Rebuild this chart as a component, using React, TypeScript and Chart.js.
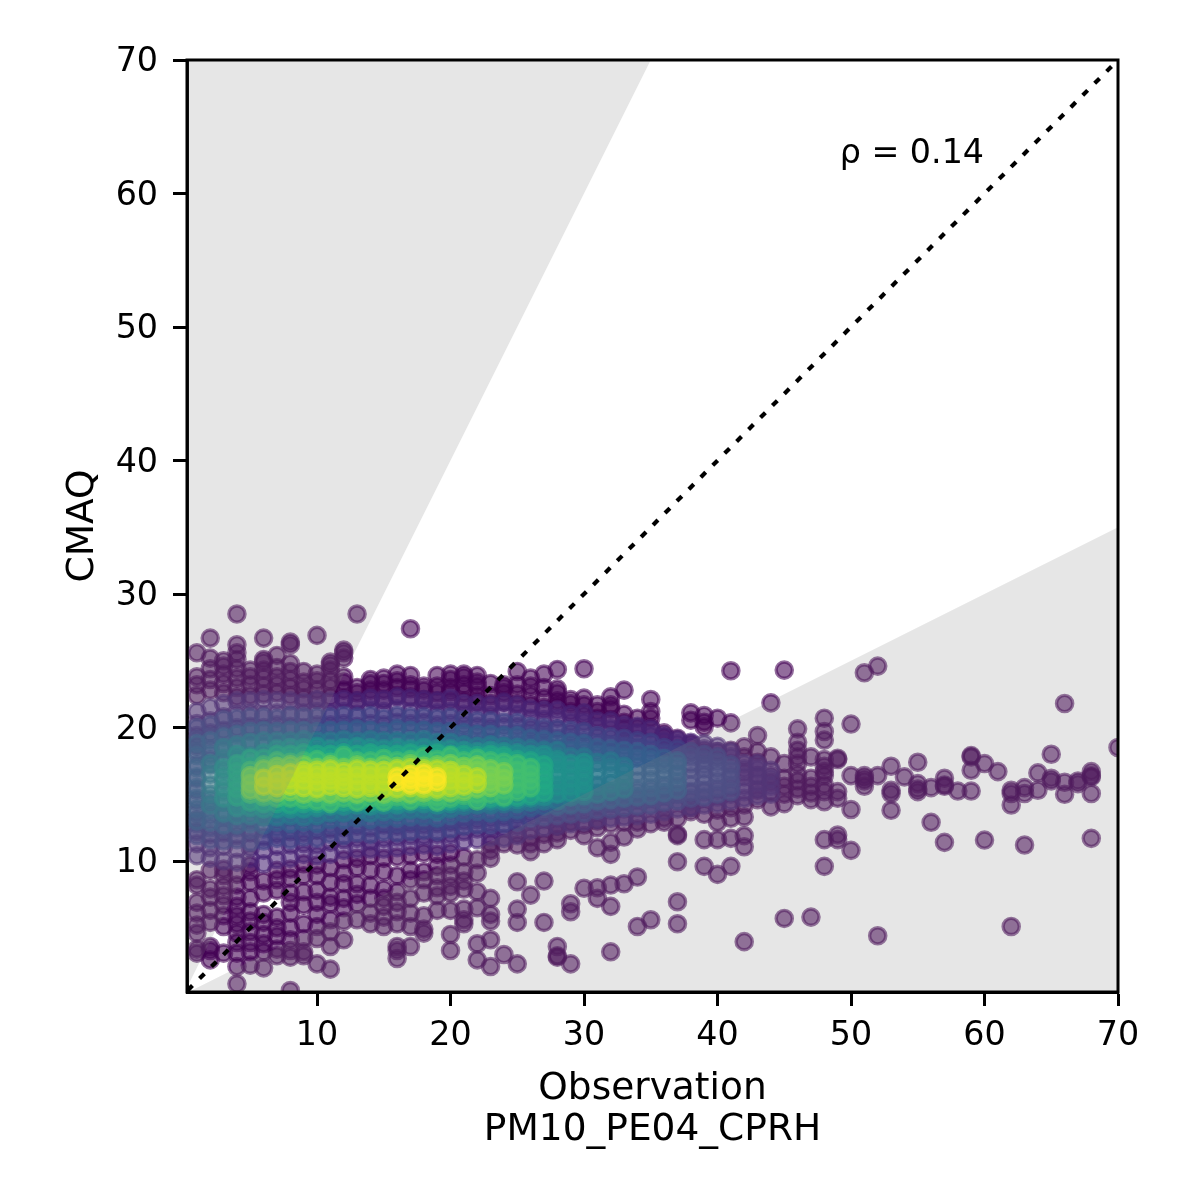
import React, { useEffect, useRef } from "react";
import { Chart, registerables } from "chart.js";

Chart.register(...registerables);

const xTicks = [10, 20, 30, 40, 50, 60, 70];
const yTicks = [10, 20, 30, 40, 50, 60, 70];
const axisMinX = 0.26;
const axisMinY = 0.19;
const axisMax = 70;
const identityLine = [{ x: 0, y: 0 }, { x: 70, y: 70 }];
const upperWedge = [{ x: 0, y: 0 }, { x: 35, y: 70 }, { x: 0, y: 70 }];
const lowerWedge = [{ x: 0, y: 0 }, { x: 70, y: 35 }, { x: 70, y: 0 }];

const bandColors = ["68,1,84", "72,36,117", "65,68,135", "53,95,141", "42,120,142", "33,145,140", "34,168,132", "68,191,112", "122,209,81", "189,223,38", "253,231,37"];

const band0 = [
  [1, 3.1, 3.4, 4.6, 5.2, 6.1, 6.9, 8.2, 8.6, 22.4, 23.2, 23.8, 25.6],
  [2, 2.6, 3.3, 3.6, 5.4, 6.3, 7.3, 7.9, 9.3, 22.8, 23.6, 24.4, 25.2, 26.7],
  [3, 3.1, 5.1, 5.9, 6.7, 7.4, 8.1, 8.9, 9.4, 22.6, 23.3, 24, 24.6, 25],
  [4, 0.8, 2.1, 3.1, 3.9, 4.6, 5.3, 5.9, 6.6, 7.3, 8.2, 9, 22.3, 23, 23.7, 24.4, 25.1, 25.6, 26.2, 28.5],
  [5, 2.2, 3.2, 3.9, 4.7, 5.5, 6.2, 7.2, 8.4, 9.2, 9.7, 22.4, 23.2, 23.8, 24.3],
  [6, 2, 3.2, 3.8, 4.5, 5.4, 6, 7.6, 8.5, 22.5, 23.1, 23.7, 24.3, 24.9, 25.1, 26.7],
  [7, 2.9, 3.4, 4.4, 5, 5.8, 7.8, 8.6, 9.3, 22.6, 23.2, 23.8, 24.5, 25.4],
  [8, 0.3, 2.8, 3.3, 4.1, 5, 6.1, 6.9, 7.6, 8.7, 9.4, 22.4, 23, 23.6, 24.2, 24.8, 26.2, 26.4],
  [9, 2.9, 3.2, 4.2, 5.3, 6.7, 7.7, 8.9, 9.8, 22.2, 22.9, 23.4, 24.2],
  [10, 2.3, 4.2, 5.1, 6, 6.9, 7.8, 8.9, 9.7, 22.1, 22.8, 23.5, 24, 26.9],
  [11, 1.9, 3.6, 4.7, 5.6, 6.8, 7.3, 8.4, 9.5, 22.3, 23, 23.5, 24.3, 24.7, 24.9],
  [12, 4.1, 5.5, 6.5, 7.2, 8.3, 9.1, 10.1, 22.2, 22.8, 23.4, 23.8, 25.2, 25.6, 25.8],
  [13, 5.6, 6.8, 7.5, 8.3, 9.5, 10.2, 22, 22.6, 23, 28.5],
  [14, 5.3, 6.1, 7.2, 8.2, 9.3, 10.4, 22.2, 22.8, 23.3, 23.6],
  [15, 5.1, 5.8, 6.6, 7.2, 7.9, 9.2, 10.2, 22.1, 22.8, 23.3, 23.7],
  [16, 2.7, 3.3, 3.6, 5.3, 6.2, 6.9, 7.7, 8.9, 10.3, 22.4, 23, 23.5, 24],
  [17, 3.6, 5.1, 6.1, 7.2, 8.6, 9.3, 10.4, 22.3, 22.9, 23.2, 23.9, 27.4],
  [18, 4.6, 4.9, 5.9, 7.6, 8.6, 9.2, 10.6, 22.1, 22.8, 23.1],
  [19, 6.3, 7.4, 8, 8.9, 9.6, 10.5, 22, 22.6, 23.1, 23.9],
  [20, 3.3, 4.5, 6.3, 7.6, 8.1, 8.9, 9.7, 10.6, 22, 22.7, 23, 23.6, 24],
  [21, 5.3, 5.6, 6.4, 7.9, 8.5, 9.2, 10.3, 22, 22.6, 23.2, 24, 23.8],
  [22, 2.6, 3.8, 6.5, 7.7, 9.1, 10.1, 21.9, 22.4, 23.1, 23.4, 23.9],
  [23, 2.1, 4.1, 5.5, 6, 7.2, 10.2, 10.8, 11.3, 21.8, 22.4, 23.3],
  [24, 3, 11.3, 21.9, 22.6, 23.2, 23],
  [25, 2.3, 5.4, 6.4, 8.45, 11.2, 12, 21.8, 22.5, 23.2, 24.2],
  [26, 7.45, 10.7, 11.3, 11.8, 21.7, 22.4, 23.1, 23.7],
  [27, 5.4, 8.5, 11.3, 12, 21.5, 22.2, 23, 24],
  [28, 2.8, 2.9, 3.6, 11.6, 12.1, 12.6, 21.6, 22, 22.6, 22.9, 24.35],
  [29, 2.3, 6.2, 6.8, 12.3, 12.9, 21.2, 22.1, 21.8],
  [30, 7.96, 11.9, 12.7, 20.9, 21.7, 22.2, 24.4],
  [31, 7.2, 8, 11, 12.5, 13, 20.7, 21.2, 21.7],
  [32, 3.2, 6.6, 8.2, 10.5, 11.4, 12.8, 20.6, 21.4, 21.7, 22.3],
  [33, 8.3, 11.8, 12.9, 19.9, 20.4, 21, 22.8],
  [34, 5.1, 8.8, 12.4, 12.9, 20, 20.7],
  [35, 5.6, 12.8, 20, 20.7, 21.2, 22.1],
  [36, 12.9, 13.2, 19.3, 19.6],
  [37, 5.3, 6.95, 9.95, 11.9, 12, 13.2, 19.2],
  [38, 13.7, 14, 18.8, 20.55, 21.1],
  [39, 9.6, 11.6, 13.5, 18.2, 20.06, 20.4, 20.9],
  [40, 9, 11.6, 12.9, 13.8, 18.2, 20.7],
  [41, 9.6, 11.7, 13.2, 14, 18.3, 20.35, 24.25],
  [42, 3.96, 11.07, 11.9, 13.3, 14.2, 16.6, 17.8, 18.56],
  [43, 14.6, 15.3, 16.4, 17.4, 18.2, 19.4],
  [44, 14.06, 15.2, 15.9, 16.4, 17.8, 21.85],
  [45, 5.7, 14.3, 15, 15.6, 16.2, 17.3, 24.3],
  [46, 14.9, 15.4, 16, 16.5, 17.3, 17.8, 18.3, 18.9, 19.9],
  [47, 5.8, 14.6, 15.1, 15.6, 16.2, 17.8],
  [48, 9.6, 11.6, 14.44, 15.2, 15.7, 16.4, 16.7, 17.1, 17.6, 19.06, 19.7, 20.7],
  [49, 11.6, 11.95, 14.7, 15.2, 17.6, 17.7],
  [50, 10.8, 13.86, 16.4, 20.26],
  [51, 15.6, 16, 16.2, 16.4, 24.1],
  [52, 4.4, 16.4, 24.6],
  [53, 13.8, 15.06, 15.3, 17.1],
  [54, 16.3],
  [55, 15.2, 15.4, 15.8, 17.4],
  [56, 12.9, 15.5],
  [57, 11.4, 15.6, 15.7, 16.2],
  [58, 15.24],
  [59, 15.24, 16.8, 17.8, 17.9],
  [60, 11.57, 17.3],
  [61, 16.7],
  [62, 5.1, 14.2, 15.06, 15.3],
  [63, 11.2, 15.06, 15.5],
  [64, 15.3, 16.6],
  [65, 16, 16.2, 18],
  [66, 15, 15.9, 21.8],
  [67, 15.8, 16],
  [68, 11.7, 15.06, 16.3, 16.4, 16.7],
  [70, 18.5],
];

const band1 = [
  [1, 10.4, 11.3, 12.2, 13.1, 18.6, 19.4, 20.3, 21.2], [2, 10.2, 11, 12, 19.6, 20.5, 21.5], [3, 10, 11.1, 12.1, 19.8, 20.8, 21.8],
  [4, 9.9, 10.9, 11.9, 20, 21, 22], [5, 10.2, 11, 12.1, 20.1, 21.1, 22], [6, 9.8, 10.8, 11.8, 20, 21, 22.1],
  [7, 10.1, 11.1, 12, 20.2, 21.1, 22], [8, 10.2, 11.2, 12.2, 20.1, 21, 22], [9, 10.5, 11.3, 12.1, 20, 21.1, 21.9],
  [10, 10.4, 11.2, 12.3, 20.2, 21.2, 22.1], [11, 10.5, 11.4, 12.4, 20.2, 21.1, 22], [12, 10.8, 11.6, 12.5, 20.3, 21.2, 22.1],
  [13, 10.9, 11.7, 12.6, 20.1, 21, 22], [14, 10.9, 11.5, 12.5, 20.3, 21.3, 22.2], [15, 10.9, 11.7, 12.7, 20.2, 21.2, 22.1],
  [16, 11, 11.8, 12.6, 20.4, 21.4, 22.3], [17, 11.1, 11.9, 12.8, 20.3, 21.2, 22.2], [18, 11.2, 11.9, 12.7, 20.4, 21.3, 22.1],
  [19, 11.1, 12, 12.8, 20.2, 21.1, 22], [20, 11.3, 12, 12.9, 20.3, 21.2, 22.2], [21, 11.5, 12.2, 13, 20.2, 21, 21.8],
  [22, 11.6, 12.4, 13.1, 20.1, 21, 21.8], [23, 11.8, 12.5, 13.2, 20, 20.9, 21.7], [24, 11.7, 12.5, 13.3, 20.1, 21, 21.9],
  [25, 11.9, 12.6, 13.4, 20.1, 21, 21.7], [26, 12.3, 13, 13.6, 19.9, 20.7, 21.4], [27, 12.5, 13.1, 13.7, 19.8, 20.6, 21.3],
  [28, 12.6, 13.2, 13.8, 19.9, 20.7, 21.3], [29, 12.8, 13.4, 14, 19.6, 20.4, 21], [30, 12.9, 13.5, 14.1, 19.7, 20.4, 21.1],
  [31, 13.1, 13.7, 14.3, 19.3, 20, 20.5], [32, 13.2, 13.8, 14.3, 19.2, 19.9, 20.5], [33, 13.3, 13.9, 14.5, 19, 19.6, 20.2],
  [34, 13.4, 14, 14.6, 19.1, 19.6, 20.1], [35, 13.5, 14.1, 14.7, 18.9, 19.4, 19.9], [36, 13.7, 14.3, 14.9, 18.5, 19, 19.4],
  [37, 13.9, 14.5, 15, 18.4, 18.8, 19.1], [38, 14, 14.5, 15.1, 18.2, 18.6, 18.9], [39, 14.2, 14.7, 15.2, 18, 18.4, 18.8],
  [40, 14.3, 14.8, 15.3, 17.8, 18.2, 18.6], [41, 14.5, 15, 15.5, 16.4, 17.3, 17.8, 18.2], [42, 14.7, 15.2, 15.6, 16.3, 16.9, 17.3],
  [43, 14.9, 15.4, 15.9, 16.4, 16.9, 17.3], [44, 15, 15.6, 16.2, 16.8],
];

const band2 = [
  [1, 11.9, 12.8, 13.6, 14.5, 15.3, 16.2, 17.2, 18.2, 19.1, 20], [2, 11.6, 12.5, 13.4, 14.3, 17.6, 18.4, 19.3, 20.2], [3, 11.5, 12.4, 13.3, 18.5, 19.5, 20.6],
  [4, 11.6, 12.5, 13.2, 18.7, 19.7, 20.7], [5, 11.4, 12.3, 13.1, 18.8, 19.8, 20.8], [6, 11.5, 12.4, 13.3, 18.6, 19.7, 20.8],
  [7, 11.7, 12.5, 13.2, 18.8, 19.8, 20.7], [8, 11.6, 12.4, 13.3, 18.9, 19.9, 20.9], [9, 11.8, 12.6, 13.4, 18.7, 19.7, 20.8],
  [10, 11.7, 12.5, 13.3, 18.9, 19.9, 20.8], [11, 12, 12.7, 13.5, 18.8, 19.8, 20.8], [12, 11.9, 12.7, 13.6, 18.9, 19.9, 20.9],
  [13, 12.1, 12.8, 13.5, 18.8, 19.9, 20.8], [14, 12, 12.9, 13.7, 19, 19.9, 20.9], [15, 12.2, 12.9, 13.6, 18.9, 19.8, 20.7],
  [16, 12.1, 12.8, 13.6, 19, 20, 20.9], [17, 12.2, 13, 13.8, 18.9, 19.9, 20.8], [18, 12.3, 13, 13.7, 19, 19.9, 20.8],
  [19, 12.2, 13, 13.8, 18.8, 19.8, 20.7], [20, 12.4, 13.1, 13.8, 19, 19.8, 20.8], [21, 12.6, 13.3, 14, 18.9, 19.7, 20.6],
  [22, 12.7, 13.4, 14.1, 18.8, 19.6, 20.5], [23, 12.7, 13.5, 14.2, 18.9, 19.7, 20.5], [24, 12.8, 13.5, 14.2, 18.7, 19.5, 20.4],
  [25, 12.9, 13.6, 14.3, 18.8, 19.6, 20.4], [26, 13.2, 13.9, 14.5, 18.7, 19.4, 20.1], [27, 13.3, 13.9, 14.6, 18.6, 19.3, 20],
  [28, 13.4, 14, 14.6, 18.5, 19.2, 19.9], [29, 13.5, 14.1, 14.7, 18.4, 19.1, 19.8], [30, 13.6, 14.2, 14.8, 18.4, 19, 19.7],
  [31, 13.8, 14.4, 15, 18.2, 18.8, 19.4], [32, 13.9, 14.4, 15, 18.1, 18.7, 19.3], [33, 14, 14.6, 15.2, 18, 18.6, 19.2],
  [34, 14.1, 14.7, 15.2, 17.9, 18.5, 19], [35, 14.2, 14.7, 15.3, 17.8, 18.4, 18.9], [36, 14.4, 14.9, 15.5, 17.6, 18.1, 18.5],
  [37, 14.5, 15, 15.6, 16.6, 17.5, 18, 18.4], [38, 14.7, 15.2, 15.7, 16.3, 16.9, 17.3, 17.8, 18.2], [39, 14.8, 15.3, 15.8, 16.4, 16.9, 17.2, 17.6, 18],
  [40, 15, 15.5, 16, 16.5, 16.9, 17.4, 17.8], [41, 15.2, 15.7, 16.2, 16.8, 17.2],
];

const band3 = [
  [1, 13, 13.9, 14.7, 15.5, 16.3, 17, 17.9, 18.8], [2, 12.9, 13.8, 14.6, 17.2, 18, 19], [3, 12.7, 13.5, 14.4, 17.4, 18.3, 19.3],
  [4, 12.7, 13.6, 14.5, 17.5, 18.5, 19.5], [5, 12.8, 13.5, 14.3, 17.6, 18.7, 19.7], [6, 12.7, 13.6, 14.4, 17.6, 18.6, 19.8],
  [7, 12.9, 13.7, 14.5, 17.7, 18.7, 19.7], [8, 12.8, 13.6, 14.4, 17.8, 18.8, 19.8], [9, 12.9, 13.7, 14.5, 17.7, 18.8, 19.8],
  [10, 12.8, 13.7, 14.6, 17.8, 18.7, 19.7], [11, 13.1, 13.9, 14.6, 17.8, 18.8, 19.8], [12, 13.1, 13.8, 14.5, 17.9, 18.9, 19.8],
  [13, 13.2, 13.9, 14.7, 17.7, 18.8, 19.9], [14, 13.1, 13.9, 14.6, 17.8, 18.9, 19.8], [15, 13.2, 14, 14.7, 17.9, 18.8, 19.7],
  [16, 13.2, 13.9, 14.6, 17.9, 18.9, 19.9], [17, 13.3, 14, 14.7, 17.8, 18.8, 19.8], [18, 13.3, 14, 14.8, 17.9, 18.9, 19.8],
  [19, 13.2, 14, 14.7, 17.8, 18.7, 19.7], [20, 13.4, 14.1, 14.8, 17.9, 18.8, 19.7], [21, 13.6, 14.2, 14.9, 17.8, 18.7, 19.6],
  [22, 13.7, 14.3, 15, 17.8, 18.6, 19.5], [23, 13.6, 14.4, 15, 17.9, 18.7, 19.5], [24, 13.7, 14.4, 15.1, 17.7, 18.6, 19.4],
  [25, 13.8, 14.5, 15.1, 17.8, 18.6, 19.4], [26, 14, 14.6, 15.2, 17.8, 18.5, 19.2], [27, 14.1, 14.7, 15.3, 17.7, 18.4, 19.1],
  [28, 14.1, 14.7, 15.3, 17.7, 18.4, 19], [29, 14.2, 14.8, 15.4, 17.6, 18.3, 18.9], [30, 14.3, 14.8, 15.5, 17.6, 18.2, 18.8],
  [31, 14.5, 15.1, 15.7, 17.4, 18, 18.5], [32, 14.6, 15.2, 15.8, 17.3, 17.9, 18.4], [33, 14.7, 15.3, 15.9, 16.6, 17.2, 17.8, 18.3],
  [34, 14.8, 15.4, 16, 16.6, 17.1, 17.7, 18.2], [35, 14.9, 15.5, 16.1, 16.6, 17, 17.6, 18], [36, 15.1, 15.7, 16.3, 16.8, 17.2, 17.7],
  [37, 15.3, 15.9, 16.5, 17.1, 17.5],
];

const band4 = [
  [2, 14.2, 15, 15.7, 16.5, 17.3], [3, 13.6, 14.4, 15.2, 16, 16.8, 17.7, 18.5], [4, 13.4, 14.2, 15, 15.9, 16.8, 17.8, 18.7],
  [5, 13.4, 14.2, 14.9, 17, 17.9, 18.9], [6, 13.3, 14, 14.8, 17.1, 18, 19], [7, 13.3, 14.1, 14.9, 17.2, 18.1, 19],
  [8, 13.4, 14.1, 14.8, 17.3, 18.1, 19], [9, 13.3, 14, 14.7, 17.2, 18.2, 19.1], [10, 13.4, 14.2, 14.9, 17.4, 18.2, 19],
  [11, 13.6, 14.3, 15, 17.3, 18.1, 19], [12, 13.6, 14.2, 14.9, 17.4, 18.2, 19.1], [13, 13.7, 14.3, 15, 17.3, 18.2, 19],
  [14, 13.6, 14.4, 15.1, 17.4, 18.3, 19.1], [15, 13.7, 14.4, 15, 17.3, 18.2, 19], [16, 13.7, 14.3, 15.1, 17.4, 18.1, 19],
  [17, 13.8, 14.4, 15, 17.5, 18.3, 19], [18, 13.8, 14.5, 15.1, 17.4, 18.2, 19.1], [19, 13.7, 14.4, 15.1, 17.5, 18.2, 18.9],
  [20, 13.9, 14.5, 15.2, 17.4, 18.1, 18.9], [21, 14.1, 14.7, 15.3, 17.5, 18.1, 18.7], [22, 14.2, 14.8, 15.4, 17.4, 18, 18.6],
  [23, 14.2, 14.8, 15.4, 17.5, 18.1, 18.7], [24, 14.3, 14.9, 15.5, 17.4, 18, 18.6], [25, 14.3, 14.9, 15.5, 17.4, 18, 18.5],
  [26, 14.4, 15, 15.6, 17.3, 17.9, 18.4], [27, 14.5, 15.1, 15.7, 17.3, 17.8, 18.3], [28, 14.5, 15.1, 15.7, 16.5, 17.3, 17.8, 18.3],
  [29, 14.8, 15.4, 16, 16.6, 17.2, 17.8], [30, 14.9, 15.5, 16.1, 16.7, 17.3, 17.8], [31, 15, 15.6, 16.2, 16.8, 17.4],
  [32, 15.2, 15.8, 16.4, 17, 17.5], [33, 15.4, 16, 16.6, 17.1],
];

const band5 = [
  [3, 14.7, 15.5, 16.3, 17], [4, 14, 14.8, 15.5, 16.3, 17.1, 18], [5, 14, 14.7, 15.4, 16.2, 17, 17.8],
  [6, 13.9, 14.6, 15.3, 16.1, 17.2, 18.1], [7, 13.9, 14.6, 15.4, 17.3, 17.9, 18.4], [8, 13.9, 14.6, 15.3, 17.4, 17.9, 18.5],
  [9, 13.9, 14.5, 15.2, 17.5, 18, 18.5], [10, 14, 14.6, 15.3, 17.4, 18, 18.6], [11, 14.1, 14.7, 15.3, 17.5, 18, 18.4],
  [12, 14.1, 14.7, 15.4, 17.5, 18.1, 18.5], [13, 14.2, 14.8, 15.3, 17.4, 18, 18.6], [14, 14.1, 14.7, 15.4, 17.6, 18.1, 18.5],
  [15, 14.2, 14.8, 15.4, 17.5, 18, 18.4], [16, 14.2, 14.8, 15.5, 17.5, 18.1, 18.5], [17, 14.3, 14.9, 15.4, 17.6, 18, 18.4],
  [18, 14.3, 14.9, 15.5, 17.5, 18, 18.5], [19, 14.2, 14.8, 15.4, 17.6, 18.1, 18.4], [20, 14.3, 14.9, 15.5, 17.5, 18, 18.4],
  [21, 14.4, 15, 15.6, 17.5, 17.9, 18.3], [22, 14.5, 15.1, 15.6, 17.4, 17.9, 18.2], [23, 14.5, 15.1, 15.7, 17.5, 17.9, 18.3],
  [24, 14.5, 15.1, 15.7, 17.4, 17.8, 18.2], [25, 14.6, 15.2, 15.8, 17.3, 17.8, 18.1], [26, 14.7, 15.3, 15.9, 16.6, 17.3, 17.7, 18],
  [27, 14.8, 15.3, 15.9, 16.6, 17.2, 17.6, 18], [28, 15, 15.6, 16.2, 16.8, 17.3, 17.6], [29, 15.1, 15.6, 16.2, 16.8, 17.3],
  [30, 15.2, 15.8, 16.4, 17, 17.4],
];

const band6 = [
  [4, 14.8, 15.4, 16, 16.7, 17.3], [5, 14.4, 15, 15.7, 16.4, 17.1, 17.7], [6, 14.3, 14.9, 15.6, 16.3, 17, 17.7],
  [7, 14.3, 14.9, 15.5, 17.1, 17.6, 18], [8, 14.2, 14.8, 15.4, 17.2, 17.6, 18], [9, 14.3, 14.8, 15.4, 17.2, 17.7, 18.1],
  [10, 14.3, 14.9, 15.4, 17.3, 17.7, 18], [11, 14.4, 14.9, 15.5, 17.2, 17.6, 18], [12, 14.4, 14.9, 15.4, 17.3, 17.7, 18.1],
  [13, 14.5, 15, 15.5, 17.2, 17.6, 18], [14, 14.4, 14.9, 15.5, 17.3, 17.8, 18.1], [15, 14.5, 15, 15.5, 17.3, 17.7, 18],
  [16, 14.5, 15, 15.6, 17.3, 17.7, 18], [17, 14.6, 15.1, 15.6, 17.3, 17.7, 18.1], [18, 14.6, 15.1, 15.6, 17.3, 17.6, 18],
  [19, 14.5, 15, 15.6, 17.4, 17.8, 18.1], [20, 14.5, 15.1, 15.6, 17.3, 17.7, 18], [21, 14.6, 15.1, 15.7, 17.3, 17.7, 18],
  [22, 14.7, 15.2, 15.7, 17.3, 17.6, 17.9], [23, 14.7, 15.2, 15.7, 17.3, 17.7, 18], [24, 14.7, 15.3, 15.8, 16.5, 17.2, 17.6, 17.9],
  [25, 14.8, 15.4, 16, 16.6, 17.2, 17.6], [26, 14.9, 15.4, 16, 16.6, 17.1, 17.5], [27, 15.1, 15.6, 16.1, 16.7, 17.2],
];

const band7 = [
  [5, 15, 15.6, 16.2, 16.8], [6, 14.8, 15.4, 16, 16.6, 17.2], [7, 14.7, 15.3, 15.9, 16.5, 17.1, 17.5],
  [8, 14.7, 15.2, 15.8, 17, 17.4], [9, 14.6, 15.2, 15.7, 17, 17.5], [10, 14.5, 15.2, 15.7, 17.1, 17.6],
  [11, 14.3, 14.8, 15.3, 17, 17.4], [12, 14.7, 15.2, 15.7, 17.1, 17.9], [13, 14.4, 14.9, 15.4, 17, 17.5],
  [14, 14.7, 15.2, 15.8, 17.1, 17.5], [15, 14.4, 14.8, 15.3, 17.1, 17.7], [16, 14.8, 15.3, 15.8, 17.1, 17.5],
  [17, 14.5, 14.9, 15.4, 17.1, 17.6], [18, 14.8, 15.3, 15.9, 17.2, 17.8], [19, 14.4, 14.8, 15.3, 17.1, 17.6],
  [20, 14.7, 15.2, 15.9, 17.1, 17.9], [21, 14.9, 15.4, 15.9, 17.1, 17.5], [22, 14.5, 15, 15.5, 16.4, 17.1, 17.7],
  [23, 15, 15.5, 16, 16.6, 17.1, 17.5], [24, 14.8, 15.3, 15.9, 16.5, 17, 17.4], [25, 15.2, 15.7, 16.2, 16.8, 17.3],
  [26, 15.5, 16, 16.5, 17],
];

const band8 = [
  [5, 15.3, 15.8, 16.4], [6, 15.1, 15.7, 16.3, 16.9], [7, 15.1, 15.6, 16.2, 16.8, 17.1], [8, 15.2, 15.6, 16.2, 16.8, 17.2], [9, 15, 15.5, 16.1, 16.7, 17.2],
  [10, 15.1, 15.5, 16, 16.6, 17], [11, 15, 15.6, 16.1, 16.7, 17.2], [12, 15.1, 15.5, 16, 16.7, 17],
  [13, 15, 15.6, 16.1, 16.7, 17.2], [14, 15.1, 15.5, 16.1, 16.8, 17], [15, 15, 15.6, 16.1, 16.8, 17.2],
  [16, 15.1, 15.6, 16.1, 16.8, 17.1], [17, 15, 15.7, 16.2, 16.8, 17.3], [18, 15.1, 15.6, 16.2, 16.8, 17.1],
  [19, 15.2, 15.6, 16.2, 16.8, 17.2], [20, 15.1, 15.7, 16.2, 16.8, 17.3], [21, 15.2, 15.7, 16.2, 16.8, 17.1],
  [22, 15.4, 15.8, 16.3, 16.8, 17.2], [23, 15.5, 15.9, 16.4, 16.9], [24, 15.7, 16.2, 16.7],
];

const band9 = [
  [6, 15.6, 16.2], [7, 15.5, 16, 16.5], [8, 15.6, 16.1, 16.6], [9, 15.5, 16, 16.5, 16.8], [10, 15.4, 15.9, 16.4, 16.8], [11, 15.6, 16, 16.4, 16.9], [12, 15.5, 15.9, 16.3, 16.7],
  [13, 15.4, 15.9, 16.4, 16.9], [14, 15.5, 15.8, 16.4, 16.8], [15, 15.4, 15.9, 16.4, 16.8], [16, 15.4, 15.9, 16.4, 16.9],
  [17, 15.5, 16, 16.5, 17], [18, 15.4, 15.9, 16.5, 16.9], [19, 15.4, 15.9, 16.5, 16.9], [20, 15.5, 16, 16.5, 16.8],
  [21, 15.6, 16, 16.5], [22, 15.8, 16.3],
];

const band10 = [
  [16, 15.9, 16.3], [17, 15.7, 16.1, 16.5], [18, 15.7, 16.2, 16.6], [19, 15.9, 16.3],
];

const bands = [band0, band1, band2, band3, band4, band5, band6, band7, band8, band9, band10];

const annotationText = "ρ = 0.14";
const annotationAt = { x: 49.15, y: 62.3 };

const toPoints = (rows: number[][]) =>
  rows.flatMap(([x, ...ys]) => ys.map((y) => ({ x, y })));

const framePlugin = {
  id: "frame",
  beforeDraw(chart: any) {
    chart.scales.y.getLabelItems().forEach((item: any) => {
      if (!item.__shifted) {
        item.options.translation[1] += 2.5;
        item.__shifted = true;
      }
    });
  },
  afterDatasetsDraw(chart: any) {
    const { ctx, chartArea, scales } = chart;
    ctx.save();
    ctx.strokeStyle = "#000";
    ctx.lineWidth = 3;
    ctx.strokeRect(chartArea.left, chartArea.top, chartArea.right - chartArea.left, chartArea.bottom - chartArea.top);
    ctx.fillStyle = "#000";
    ctx.font = '33.3px "DejaVu Sans"';
    ctx.textAlign = "left";
    ctx.textBaseline = "alphabetic";
    ctx.fillText(annotationText, scales.x.getPixelForValue(annotationAt.x), scales.y.getPixelForValue(annotationAt.y));
    ctx.restore();
  },
};

export default function App() {
  const ref = useRef<HTMLCanvasElement>(null);
  useEffect(() => {
    const font = { family: '"DejaVu Sans"', size: 33.3 };
    const titleFont = { family: '"DejaVu Sans"', size: 37.5, lineHeight: 1.1 };
    const pointSets = bands.map((rows, i) => ({
      type: "scatter" as const,
      label: `density ${i}`,
      data: toPoints(rows),
      showLine: false,
      pointRadius: 8.1,
      pointHoverRadius: 8.1,
      pointBorderWidth: 3.4,
      pointBackgroundColor: `rgba(${bandColors[i]},0.58)`,
      pointBorderColor: `rgba(${bandColors[i]},0.58)`,
      order: 20 - i,
    }));
    const wedge = (data: any[], label: string) => ({
      type: "scatter" as const,
      label,
      data,
      showLine: true,
      fill: "shape",
      backgroundColor: "rgba(128,128,128,0.2)",
      borderWidth: 0,
      borderColor: "rgba(0,0,0,0)",
      pointRadius: 0,
      order: 2,
    });
    const chart = new Chart(ref.current!, {
      type: "scatter",
      data: {
        datasets: [
          {
            type: "scatter",
            label: "1:1",
            data: identityLine,
            showLine: true,
            borderColor: "#000",
            borderWidth: 4.2,
            borderDash: [6.9, 9.98],
            borderDashOffset: -5.74,
            pointRadius: 0,
            fill: false,
            order: 1,
          },
          wedge(upperWedge, "upper"),
          wedge(lowerWedge, "lower"),
          ...pointSets,
        ] as any,
      },
      options: {
        responsive: false,
        devicePixelRatio: 1,
        animation: false,
        events: [],
        layout: { padding: { top: 60, right: 82, left: 63, bottom: 49 } },
        plugins: { legend: { display: false }, tooltip: { enabled: false }, title: { display: false } },
        scales: {
          x: {
            type: "linear",
            min: axisMinX,
            max: axisMax,
            afterBuildTicks: (s: any) => { s.ticks = xTicks.map((value) => ({ value })); },
            afterFit: (s: any) => { s.height = 159; },
            grid: { drawOnChartArea: false, drawTicks: true, tickLength: 14, tickWidth: 3, tickColor: "#000" },
            border: { display: true, color: "#000", width: 3 },
            ticks: { color: "#000", font, padding: 10, maxRotation: 0, autoSkip: false, callback: (v: any) => String(v) },
            title: { display: true, text: ["Observation", "PM10_PE04_CPRH"], color: "#000", font: titleFont, padding: { top: 8, bottom: 0 } },
          },
          y: {
            type: "linear",
            min: axisMinY,
            max: axisMax,
            afterBuildTicks: (s: any) => { s.ticks = yTicks.map((value) => ({ value })); },
            afterFit: (s: any) => { s.width = 124; },
            grid: { drawOnChartArea: false, drawTicks: true, tickLength: 14, tickWidth: 3, tickColor: "#000" },
            border: { display: true, color: "#000", width: 3 },
            ticks: { color: "#000", font, padding: 15, autoSkip: false, callback: (v: any) => String(v) },
            title: { display: true, text: "CMAQ", color: "#000", font: titleFont, padding: { top: 0, bottom: 8 } },
          },
        },
      },
      plugins: [framePlugin],
    } as any);
    return () => chart.destroy();
  }, []);
  return (
    <canvas
      ref={ref}
      width={1200}
      height={1200}
      style={{ position: "absolute", left: 0, top: 0, width: 1200, height: 1200, display: "block" }}
    />
  );
}
